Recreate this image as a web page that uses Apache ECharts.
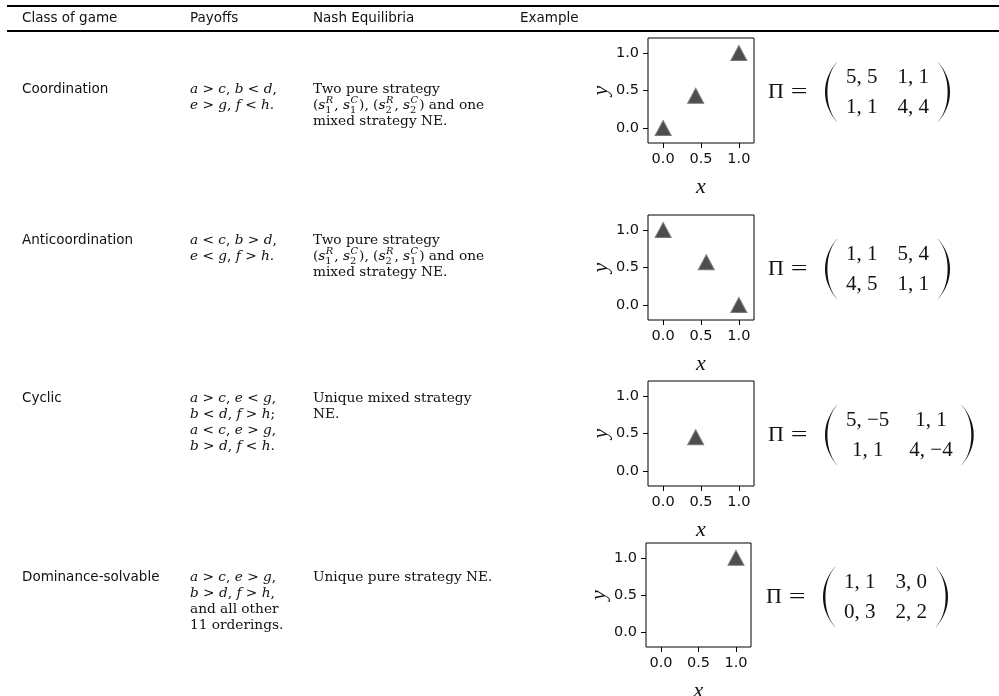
<!DOCTYPE html>
<html>
<head>
<meta charset="utf-8">
<script src="https://cdn.jsdelivr.net/npm/echarts@6/dist/echarts.min.js"></script>
<style>
html, body { margin: 0; padding: 0; background: #ffffff; }
#chart { width: 999px; height: 696px; }
</style>
</head>
<body>
<div id="chart"></div>
<script>
// ---- table content ----
const headers = ['Class of game', 'Payoffs', 'Nash Equilibria', 'Example'];
const gameClasses = ['Coordination', 'Anticoordination', 'Cyclic', 'Dominance-solvable'];
const payoffConditions = [
  ['a > c, b < d,', 'e > g, f < h.'],
  ['a < c, b > d,', 'e < g, f > h.'],
  ['a > c, e < g,', 'b < d, f > h;', 'a < c, e > g,', 'b > d, f < h.'],
  ['a > c, e > g,', 'b > d, f > h,', 'and all other', '11 orderings.']
];
const equilibriaText = [
  ['Two pure strategy', '(s_1^R, s_1^C), (s_2^R, s_2^C) and one', 'mixed strategy NE.'],
  ['Two pure strategy', '(s_1^R, s_2^C), (s_2^R, s_1^C) and one', 'mixed strategy NE.'],
  ['Unique mixed strategy', 'NE.'],
  ['Unique pure strategy NE.']
];
// example payoff matrices (row player, column player)
const payoffMatrices = [
  [['5, 5', '1, 1'], ['1, 1', '4, 4']],
  [['1, 1', '5, 4'], ['4, 5', '1, 1']],
  [['5, \u22125', '1, 1'], ['1, 1', '4, \u22124']],
  [['1, 1', '3, 0'], ['0, 3', '2, 2']]
];
// Nash equilibria of each example game, as (x, y) mixing probabilities
const equilibriumPoints = [
  [[0, 0], [0.43, 0.43], [1, 1]],
  [[0, 1], [0.57, 0.57], [1, 0]],
  [[0.43, 0.45]],
  [[1, 1]]
];
const tickValues = [0, 0.5, 1];

// ---- layout ----
const SANS = 'DejaVu Sans';
const SERIF = 'DejaVu Serif';
const MATH = 'Liberation Serif';
const INK = '#111111';
const colX = [22, 190, 313, 520];
const headerY = 18;
const rowLabelY = [89, 240, 398, 577];
const payoffY = [[89, 105], [240, 256], [398, 414, 430, 446], [577, 593, 609, 625]];
const equilibriaY = [[89, 105, 121], [240, 256, 272], [398, 414], [577]];
const panelBoxes = [
  { left: 648, top: 38, width: 106, height: 105 },
  { left: 648, top: 215, width: 106, height: 105 },
  { left: 648, top: 381, width: 106, height: 105 },
  { left: 646, top: 543, width: 105, height: 104 }
];
const SANS_SIZE = 13.5;
const TEXT_SIZE = 13.7;

const measureCtx = document.createElement('canvas').getContext('2d');
function textWidth(s, family, size, italic) {
  measureCtx.font = (italic ? 'italic ' : '') + size + 'px "' + family + '"';
  return measureCtx.measureText(s).width;
}
function textEl(x, y, s, family, size, opts) {
  const o = opts || {};
  return {
    type: 'text', x: x, y: y, silent: true,
    scaleX: o.scaleX || 1, originX: 0, originY: 0,
    style: {
      text: s, fill: INK, fontFamily: family, fontSize: size,
      fontStyle: o.italic ? 'italic' : 'normal',
      align: o.align || 'left', verticalAlign: 'middle'
    }
  };
}

const graphics = [];

// horizontal rules
graphics.push({ type: 'rect', silent: true, shape: { x: 7, y: 5, width: 992, height: 2 }, style: { fill: '#000' } });
graphics.push({ type: 'rect', silent: true, shape: { x: 7, y: 30, width: 992, height: 2 }, style: { fill: '#000' } });

headers.forEach((h, i) => graphics.push(textEl(colX[i], headerY, h, SANS, SANS_SIZE)));
gameClasses.forEach((c, i) => graphics.push(textEl(colX[0], rowLabelY[i], c, SANS, SANS_SIZE)));

// payoff conditions: single letters a..h set in italics
function pushPayoffLine(x, y, line) {
  const re = /(?<![A-Za-z])[a-h](?![A-Za-z])/g;
  let last = 0, m, cx = x;
  const pieces = [];
  while ((m = re.exec(line)) !== null) {
    if (m.index > last) pieces.push({ t: line.slice(last, m.index), it: false });
    pieces.push({ t: m[0], it: true });
    last = m.index + 1;
  }
  if (last < line.length) pieces.push({ t: line.slice(last), it: false });
  pieces.forEach(p => {
    graphics.push(textEl(cx, y, p.t, SERIF, TEXT_SIZE, { italic: p.it }));
    cx += textWidth(p.t, SERIF, TEXT_SIZE, p.it);
  });
}
payoffConditions.forEach((lines, i) => lines.forEach((l, j) => pushPayoffLine(colX[1], payoffY[i][j], l)));

// equilibria text with strategy symbols s_i^P
function pushEquilibriumLine(x, y, line) {
  const re = /s_(\d)\^([RC])/g;
  let last = 0, m, cx = x;
  const small = TEXT_SIZE * 0.72;
  const plain = s => {
    graphics.push(textEl(cx, y, s, SERIF, TEXT_SIZE));
    cx += textWidth(s, SERIF, TEXT_SIZE, false);
  };
  while ((m = re.exec(line)) !== null) {
    if (m.index > last) plain(line.slice(last, m.index));
    graphics.push(textEl(cx, y, 's', SERIF, TEXT_SIZE, { italic: true }));
    cx += textWidth('s', SERIF, TEXT_SIZE, true);
    graphics.push(textEl(cx, y + 5, m[1], SERIF, small));
    graphics.push(textEl(cx + 0.5, y - 5, m[2], SERIF, small, { italic: true }));
    cx += Math.max(textWidth(m[1], SERIF, small, false), textWidth(m[2], SERIF, small, true) + 0.5) + 1;
    last = m.index + m[0].length;
  }
  if (last < line.length) plain(line.slice(last));
}
equilibriaText.forEach((lines, i) => lines.forEach((l, j) => pushEquilibriumLine(colX[2], equilibriaY[i][j], l)));

// large parenthesis as a filled crescent
function parenPolygon(x, yTop, w, h, right) {
  const pts = [];
  const n = 40, t0 = 0.5, t1 = 2.3;
  const cubic = (p0, p1, p2, p3, t) => {
    const u = 1 - t;
    return u * u * u * p0 + 3 * u * u * t * p1 + 3 * u * t * t * p2 + t * t * t * p3;
  };
  const side = (thick, k) => {
    const outerX = x + w, ctrl = x - w / 3 + thick;
    const yy = cubic(yTop, yTop + h * 0.3, yTop + h * 0.7, yTop + h, k);
    const xx = cubic(outerX, ctrl, ctrl, outerX, k);
    return [xx, yy];
  };
  for (let i = 0; i <= n; i++) pts.push(side(0, i / n));
  for (let i = n; i >= 0; i--) {
    const k = i / n;
    const th = t0 + (t1 - t0) * Math.sin(Math.PI * k) * 4 / 3;
    const p = side(th, k);
    pts.push([p[0] + t0 * 0.5, p[1]]);
  }
  const mirrored = right ? pts.map(p => [2 * x + w - p[0], p[1]]) : pts;
  return { type: 'polygon', silent: true, shape: { points: mirrored }, style: { fill: '#111', stroke: null } };
}

// payoff matrix beside each panel
const MAT_SIZE = 21;
payoffMatrices.forEach((mat, i) => {
  const b = panelBoxes[i];
  const cy = b.top + 54;
  graphics.push(textEl(b.left + 128, cy, '\u03A0', MATH, 22, { align: 'center' }));
  graphics.push({
    type: 'text', x: b.left + 151, y: cy, silent: true, scaleX: 1.35, originX: 0, originY: 0,
    style: { text: '=', fill: INK, fontFamily: MATH, fontSize: 22, align: 'center', verticalAlign: 'middle' }
  });
  const parenX = b.left + 177, parenW = 12, pad = 9, gap = 20;
  const w1 = Math.max(textWidth(mat[0][0], MATH, MAT_SIZE), textWidth(mat[1][0], MATH, MAT_SIZE));
  const w2 = Math.max(textWidth(mat[0][1], MATH, MAT_SIZE), textWidth(mat[1][1], MATH, MAT_SIZE));
  const c1 = parenX + parenW + pad + w1 / 2;
  const c2 = c1 + w1 / 2 + gap + w2 / 2;
  const rightX = c2 + w2 / 2 + pad;
  [cy - 15, cy + 15].forEach((ry, r) => {
    graphics.push(textEl(c1, ry, mat[r][0], MATH, MAT_SIZE, { align: 'center' }));
    graphics.push(textEl(c2, ry, mat[r][1], MATH, MAT_SIZE, { align: 'center' }));
  });
  graphics.push(parenPolygon(parenX, cy - 30, parenW, 60, false));
  graphics.push(parenPolygon(rightX, cy - 30, parenW, 60, true));
});

// ---- scatter panels ----
const tickFont = { fontFamily: SANS, fontSize: 14.5, color: INK };
const nameFont = { fontFamily: MATH, fontStyle: 'italic', fontSize: 22, color: INK };
const grids = panelBoxes.map(b => ({
  left: b.left, top: b.top, width: b.width, height: b.height,
  show: true, borderColor: '#000', borderWidth: 1, backgroundColor: 'transparent',
  containLabel: false, outerBoundsMode: 'none'
}));
const axisCommon = {
  type: 'value', min: -0.2, max: 1.2,
  axisLine: { show: false, onZero: false },
  splitLine: { show: false },
  axisTick: { show: true, inside: false, length: 5, lineStyle: { color: '#000', width: 1 }, customValues: tickValues },
  nameLocation: 'middle', nameTextStyle: nameFont
};
const xAxes = panelBoxes.map((b, i) => Object.assign({}, axisCommon, {
  gridIndex: i, position: 'bottom', name: 'x', nameGap: 33,
  axisLabel: Object.assign({ customValues: tickValues, formatter: v => v.toFixed(1), margin: 9 }, tickFont)
}));
const yAxes = panelBoxes.map((b, i) => Object.assign({}, axisCommon, {
  gridIndex: i, position: 'left', name: 'y', nameGap: 35,
  axisLabel: Object.assign({ customValues: tickValues, formatter: v => v.toFixed(1), margin: 9 }, tickFont)
}));
const series = equilibriumPoints.map((pts, i) => ({
  type: 'scatter', xAxisIndex: i, yAxisIndex: i,
  data: pts, symbol: 'triangle', symbolSize: [16, 15],
  itemStyle: { color: '#4d4d4d', borderColor: '#7a7a7a', borderWidth: 1, opacity: 1 },
  emphasis: { disabled: true }, silent: true, animation: false
}));

const chart = echarts.init(document.getElementById('chart'));
chart.setOption({
  backgroundColor: '#ffffff',
  animation: false,
  grid: grids,
  xAxis: xAxes,
  yAxis: yAxes,
  series: series,
  graphic: { elements: graphics }
});
</script>
</body>
</html>
